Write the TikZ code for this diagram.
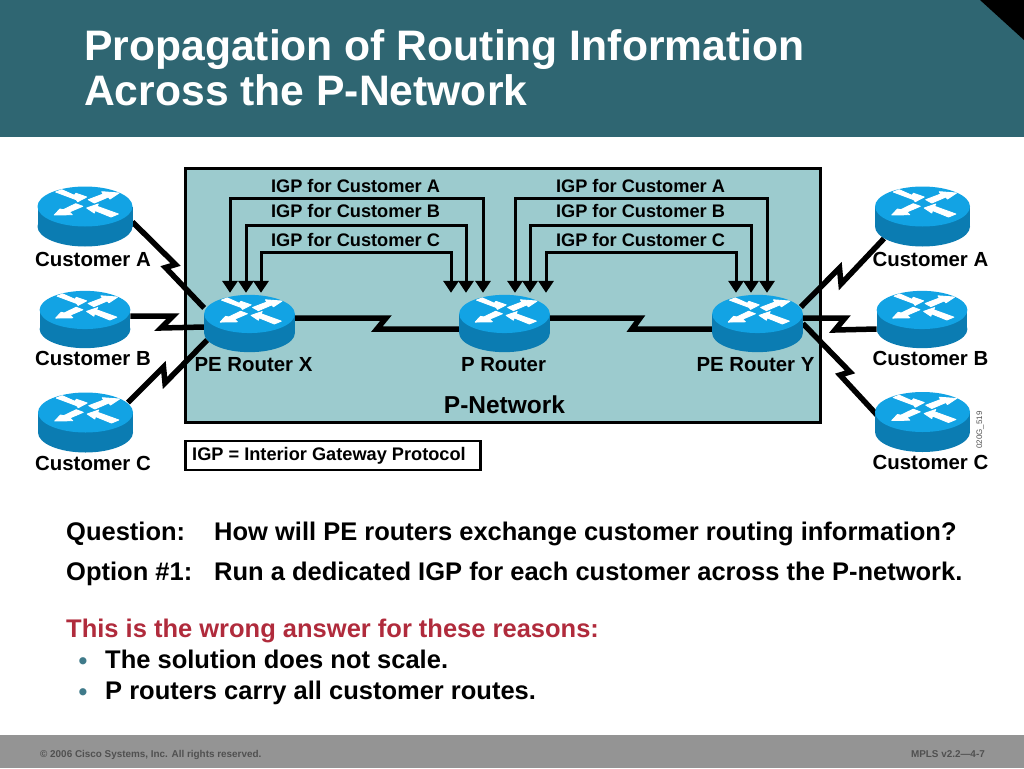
\documentclass[tikz,border=0pt]{standalone}
\usepackage{fontspec}
\setmainfont{Liberation Sans}
\usepackage{xcolor}
\usepackage{tikz}
\usetikzlibrary{arrows.meta, backgrounds, positioning}
\definecolor{headerTeal}{HTML}{2F6672}
\definecolor{networkTeal}{HTML}{9CCBCE}
\definecolor{routerTop}{HTML}{12A3E4}
\definecolor{routerSide}{HTML}{0B7CB2}
\definecolor{footerGray}{HTML}{949494}
\definecolor{footerText}{HTML}{505050}
\definecolor{wrongRed}{HTML}{B02B3C}
\definecolor{bulletTeal}{HTML}{3F7A8A}
\newcommand{\sized}[1]{\fontsize{#1}{#1}\selectfont}
\tikzset{>={Triangle[length=12pt,width=15pt]}}
\tikzset{router-node/.style={inner sep=0, outer sep=0}}
\tikzset{router-arrow/.style={draw=white, fill=white, line width=0.9pt, line join=round}}
\tikzset{router-label/.style={inner sep=0, font=\bfseries\sized{20.4}}}
\tikzset{serial-line/.style={line width=5.5pt, line join=miter, miter limit=8}}
\tikzset{igp-line/.style={<->, line width=3pt}}
\tikzset{igp-label/.style={inner sep=0, font=\bfseries\sized{18.2}}}
\tikzset{body-text/.style={inner sep=0, anchor=base west, font=\bfseries\sized{25.5}}}
\tikzset{bullet-dot/.style={inner sep=0, anchor=base west, text=bulletTeal, font=\bfseries\sized{25}}}
\tikzset{title-text/.style={inner sep=0, anchor=base west, text=white, font=\bfseries\sized{42.65}}}
\tikzset{footer-text/.style={inner sep=0, text=footerText, font=\bfseries\sized{9.9}}}
% name, centre x, centre y, size
\newcommand{\router}[4] {
    \node[router-node, minimum width=95pt*#4, minimum height=60pt*#4] (#1) at (#2,#3) {};
    \begin{scope}[shift={(#2,#3)}, scale=#4]
        \fill[routerSide] (-47.5,-10) rectangle (47.5,10);
        \fill[routerSide] (0,10) ellipse (47.5 and 20);
        \fill[routerTop] (0,-10) ellipse (47.5 and 20);
        \path[router-arrow] (-29.3,-24.5) -- (-23.3,-26.8) -- (-10.7,-21.2) -- (-9,-23.2) -- (1.7,-19.5) -- (-7.3,-14.8) -- (-8.7,-16.8) -- cycle;
        \path[router-arrow] (3.3,-16.8) -- (18.3,-22.5) -- (16.7,-24.8) -- (34,-23.5) -- (25,-17.5) -- (23.3,-19.5) -- (9.3,-13.5) -- cycle;
        \path[router-arrow] (-9.3,-12.8) -- (-2.3,-10.2) -- (-15.7,-4.5) -- (-12.7,-1.8) -- (-30.7,-1.5) -- (-25,-7.5) -- (-21.7,-6.8) -- cycle;
        \path[router-arrow] (1.7,-8.5) -- (13.3,-12.5) -- (12,-10.2) -- (33.3,-2.5) -- (26,0.5) -- (10,-6) -- (9.3,-3.5) -- cycle;
    \end{scope}
}
% left router, right router, left x offset, right x offset, height of the run
\newcommand{\igploop}[5] {
    \coordinate (igpleft) at ([xshift=#3, yshift=2pt]#1.north);
    \coordinate (igpright) at ([xshift=#4, yshift=2pt]#2.north);
    \draw[igp-line] (igpleft) -- (igpleft |- 0,#5) -- (igpright |- 0,#5) -- (igpright);
}

\begin{document}
\begin{tikzpicture}[x=1pt, y=-1pt]
    \useasboundingbox (0,0) rectangle (1024,768);

    % header and footer
    \fill[headerTeal] (0,0) rectangle (1024,137);
    \fill[black] (980,0) -- (1024,0) -- (1024,40) -- cycle;
    \fill[footerGray] (0,735) rectangle (1024,768);
    \node[title-text] (title1) at (84,60) {Propagation of Routing Information};
    \node[title-text] (title2) at (84,105) {Across the P-Network};
    \node[footer-text, anchor=base west] (copyright) at (40,757) {© 2006 Cisco Systems, Inc. All rights reserved.};
    \node[footer-text, anchor=base east] (version) at (985,757) {MPLS v2.2—4-7};

    % routers
    \router{custA1}{85}{216.5}{1}
    \router{custB1}{85}{319.5}{0.955}
    \router{custC1}{85.5}{422.5}{1}
    \router{peX}{249.5}{323.5}{0.955}
    \router{pR}{504.5}{323.5}{0.955}
    \router{peY}{757.5}{323.5}{0.955}
    \router{custA2}{922.5}{216.5}{1}
    \router{custB2}{922}{319.5}{0.955}
    \router{custC2}{922.5}{422}{1}

    \begin{scope}[on background layer]
        \node[draw, line width=3pt, fill=networkTeal, inner sep=0, minimum width=635pt, minimum height=254pt] (network) at (502.5,295) {};
        \draw[serial-line] ([yshift=-5.5pt]custA1.east) -- (175.5,264.5) -- (165.5,267.5) -- ([yshift=15.5pt]peX.west);
        \draw[serial-line] ([yshift=3.5pt]custB1.east) -- (173,316) -- (161,328) -- ([yshift=-3.5pt]peX.west);
        \draw[serial-line] ([xshift=-5pt, yshift=20pt]custC1.east) -- (163.5,367) -- (165,383) -- ([yshift=-16.5pt, xshift=3pt]peX.west);
        \draw[serial-line] ([yshift=5.5pt]peX.east) -- (386,318) -- (377,329) -- ([yshift=-5.5pt]pR.west);
        \draw[serial-line] ([yshift=5.5pt]pR.east) -- (640,318) -- (632,329) -- ([yshift=-5.5pt]peY.west);
        \draw[serial-line] ([xshift=-2pt, yshift=16.5pt]peY.east) -- (839.5,268) -- (841,284) -- ([xshift=9pt, yshift=8pt]custA2.south west);
        \draw[serial-line] ([yshift=5.5pt]peY.east) -- (845,318) -- (835,330) -- ([yshift=-9.5pt]custB2.west);
        \draw[serial-line] (peY.east) -- (850,372) -- (840,375) -- ([xshift=2pt, yshift=7pt]custC2.west);
    \end{scope}

    % igp runs
    \igploop{peX}{pR}{-19.5}{-21.5}{198}
    \igploop{peX}{pR}{-3.5}{-38.5}{225}
    \igploop{peX}{pR}{11.5}{-53.5}{252}
    \igploop{pR}{peY}{10.5}{9.5}{198}
    \igploop{pR}{peY}{25.5}{-6.5}{225}
    \igploop{pR}{peY}{41.5}{-21.5}{252}
    \node[igp-label] (igpA1) at (355.5,186) {IGP for Customer A};
    \node[igp-label] (igpB1) at (355.5,211) {IGP for Customer B};
    \node[igp-label] (igpC1) at (355.5,240) {IGP for Customer C};
    \node[igp-label] (igpA2) at (640.5,186) {IGP for Customer A};
    \node[igp-label] (igpB2) at (640.5,211) {IGP for Customer B};
    \node[igp-label] (igpC2) at (640.5,240) {IGP for Customer C};

    % router labels
    \node[router-label, below=5.5pt of custA1, xshift=8pt] (labelA1) {Customer A};
    \node[router-label, below=3pt of custB1, xshift=8pt] (labelB1) {Customer B};
    \node[router-label, below=3.5pt of custC1, xshift=7.5pt] (labelC1) {Customer C};
    \node[router-label, below=5pt of peX, xshift=4pt] (labelX) {PE Router X};
    \node[router-label, below=5pt of pR, xshift=-1pt] (labelP) {P Router};
    \node[router-label, below=5pt of peY, xshift=-2pt] (labelY) {PE Router Y};
    \node[router-label, below=5.5pt of custA2, xshift=8pt] (labelA2) {Customer A};
    \node[router-label, below=3pt of custB2, xshift=8.5pt] (labelB2) {Customer B};
    \node[router-label, below=3.5pt of custC2, xshift=8pt] (labelC2) {Customer C};
    \node[router-label, font=\bfseries\sized{24.5}] (labelnet) at (504.5,405) {P-Network};
    \node[inner sep=0, rotate=90, text=footerText, font=\sized{8}] (figcode) at (980,430) {020G\_519};

    % legend
    \node[draw, line width=2.6pt, fill=white, inner sep=0, minimum width=295pt, minimum height=29pt] (legendbox) at (333,455.5) {};
    \node[inner sep=0, font=\bfseries\sized{18.2}] (legend) at (329,455.5) {IGP = Interior Gateway Protocol};

    % text below
    \node[body-text] (question) at (66,540.5) {Question:};
    \node[body-text] (questiontext) at (214,540.5) {How will PE routers exchange customer routing information?};
    \node[body-text] (option) at (66,580) {Option \#1:};
    \node[body-text] (optiontext) at (214,580) {Run a dedicated IGP for each customer across the P-network.};
    \node[body-text, text=wrongRed] (wrong) at (66,637.5) {This is the wrong answer for these reasons:};
    \node[bullet-dot] (bullet1) at (78.5,669.3) {•};
    \node[body-text] (reason1) at (105,668) {The solution does not scale.};
    \node[bullet-dot] (bullet2) at (78.5,700) {•};
    \node[body-text] (reason2) at (105,699) {P routers carry all customer routes.};
\end{tikzpicture}
\end{document}
